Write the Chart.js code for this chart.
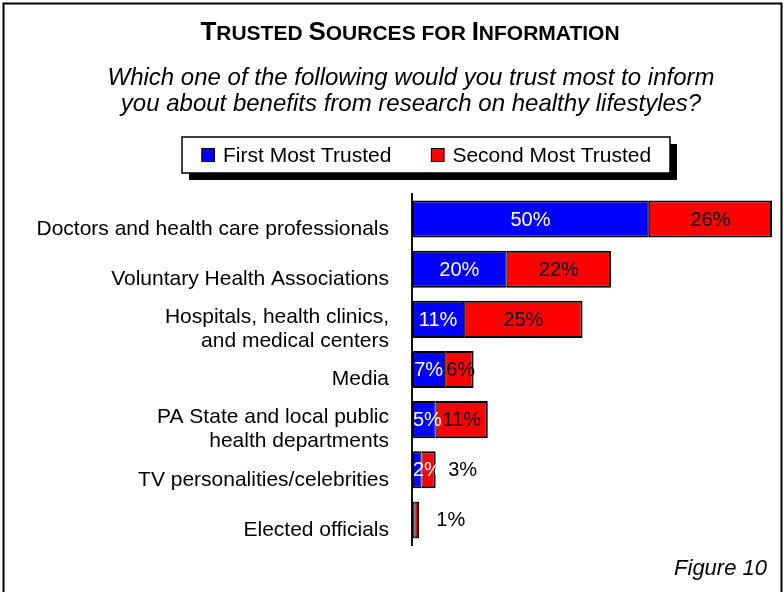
<!DOCTYPE html>
<html>
<head>
<meta charset="utf-8">
<title>Trusted Sources for Information</title>
<script src="https://cdn.jsdelivr.net/npm/chart.js@4.4.1/dist/chart.umd.min.js"></script>
<style>
  html, body { margin: 0; padding: 0; background: #fff; }
  #wrap { width: 784px; height: 592px; }
</style>
</head>
<body>
<div id="wrap"><canvas id="trustChart" width="784" height="592"></canvas></div>
<script>
const categories = [
  "Doctors and health care professionals",
  "Voluntary Health Associations",
  ["Hospitals, health clinics,", "and medical centers"],
  "Media",
  ["PA State and local public", "health departments"],
  "TV personalities/celebrities",
  "Elected officials"
];
const firstMostTrusted = [50, 20, 11, 7, 5, 2, 0.5];
const secondMostTrusted = [26, 22, 25, 6, 11, 3, 1];
const seriesNames = ["First Most Trusted", "Second Most Trusted"];
const seriesColors = ["#0000ff", "#ff0000"];

const titleText = "Trusted Sources for Information";
const questionLines = [
  "Which one of the following would you trust most to inform",
  "you about benefits from research on healthy lifestyles?"
];
const figureLabel = "Figure 10";

const FONT = '"Liberation Sans", Arial, Helvetica, sans-serif';

// value labels: white inside the blue part, black inside the red part,
// and pushed out to the right when the red part is too thin
const barValueLabels = {
  id: "barValueLabels",
  afterDatasetsDraw(chart) {
    const { ctx } = chart;
    const last = chart.data.datasets.length - 1;
    ctx.save();
    ctx.font = "20px " + FONT;
    ctx.textAlign = "center";
    ctx.textBaseline = "middle";
    chart.data.datasets.forEach((ds, di) => {
      chart.getDatasetMeta(di).data.forEach((bar, i) => {
        const v = ds.data[i];
        if (v < 1) return;
        const text = v + "%";
        const half = ctx.measureText(text).width / 2;
        const { x, y, base } = bar.getProps(["x", "y", "base"], true);
        // keep a wide label from spilling back over the left end of its part
        let tx = Math.max((x + base) / 2, base + half + 1);
        ctx.fillStyle = di === 0 ? "#fff" : "#000";
        if (di === last && x - base < 20) {
          tx = (x + base) / 2 + 34;
          ctx.fillStyle = "#000";
        }
        ctx.fillText(text, tx, y + 1);
      });
    });
    ctx.restore();
  }
};

// frame, small-caps heading, question, boxed legend and figure number
const pageDecor = {
  id: "pageDecor",
  afterDraw(chart) {
    const { ctx } = chart;
    ctx.save();

    ctx.strokeStyle = "#000";
    ctx.lineWidth = 2;
    ctx.strokeRect(3.5, 3.5, 778, 640);

    // heading in small caps
    const big = "bold 26px " + FONT;
    const small = "bold 21px " + FONT;
    const parts = [];
    titleText.split(" ").forEach((word, wi) => {
      if (wi > 0) parts.push({ t: " ", f: small });
      const first = word[0];
      if (first === first.toUpperCase()) {
        parts.push({ t: first, f: big });
      } else {
        parts.push({ t: first.toUpperCase(), f: small });
      }
      parts.push({ t: word.slice(1).toUpperCase(), f: small });
    });
    let total = 0;
    parts.forEach(p => { ctx.font = p.f; p.w = ctx.measureText(p.t).width; total += p.w; });
    let tx = 410 - total / 2;
    ctx.fillStyle = "#000";
    ctx.textBaseline = "alphabetic";
    ctx.textAlign = "left";
    parts.forEach(p => { ctx.font = p.f; ctx.fillText(p.t, tx, 40); tx += p.w; });

    // question
    ctx.font = "italic 24px " + FONT;
    ctx.textAlign = "center";
    questionLines.forEach((line, i) => ctx.fillText(line, 411, 85 + i * 26));

    // legend box with drop shadow
    const box = { left: 182, top: 137, width: 488, height: 36, shadow: 7 };
    ctx.fillStyle = "#000";
    ctx.fillRect(box.left + box.shadow, box.top + box.shadow, box.width, box.height);
    ctx.fillStyle = "#fff";
    ctx.fillRect(box.left, box.top, box.width, box.height);
    ctx.lineWidth = 1.5;
    ctx.strokeRect(box.left, box.top, box.width, box.height);

    ctx.font = "21px " + FONT;
    ctx.textAlign = "left";
    ctx.textBaseline = "middle";
    const midY = box.top + box.height / 2;
    let lx = box.left + 19.5;
    chart.data.datasets.forEach(ds => {
      ctx.fillStyle = ds.backgroundColor;
      ctx.fillRect(lx, midY - 7, 13.5, 14);
      ctx.lineWidth = 1;
      ctx.strokeStyle = "#000";
      ctx.strokeRect(lx + 0.5, midY - 6.5, 12.5, 13);
      ctx.fillStyle = "#000";
      ctx.fillText(ds.label, lx + 21.5, midY + 1);
      lx += 21.5 + ctx.measureText(ds.label).width + 39.5;
    });

    // figure number
    ctx.font = "italic 22px " + FONT;
    ctx.textAlign = "right";
    ctx.textBaseline = "alphabetic";
    ctx.fillText(figureLabel, 767, 575);

    ctx.restore();
  }
};

const ctx = document.getElementById("trustChart");

new Chart(ctx, {
  type: "bar",
  data: {
    labels: categories,
    datasets: [
      {
        label: seriesNames[0],
        data: firstMostTrusted,
        backgroundColor: seriesColors[0],
        borderColor: "#000",
        borderWidth: { top: 2, bottom: 2, left: 2, right: 1 },
        borderSkipped: false,
      },
      {
        label: seriesNames[1],
        data: secondMostTrusted,
        backgroundColor: seriesColors[1],
        borderColor: "#000",
        borderWidth: { top: 2, bottom: 2, left: 1, right: 2 },
        borderSkipped: false,
      },
    ],
  },
  options: {
    indexAxis: "y",
    responsive: false,
    animation: false,
    events: [],
    layout: {
      padding: { top: 194, bottom: 47, left: 6, right: 12 },
    },
    datasets: {
      bar: { categoryPercentage: 0.74, barPercentage: 1 },
    },
    plugins: {
      legend: { display: false },
      title: { display: false },
      tooltip: { enabled: false },
    },
    scales: {
      x: {
        stacked: true,
        display: false,
        min: 0,
        max: 76,
      },
      y: {
        stacked: true,
        grid: { display: false, drawTicks: false },
        border: { display: true, color: "#111", width: 2 },
        ticks: {
          color: "#000",
          autoSkip: false,
          padding: 23,
          labelOffset: 10,
          font: { family: FONT, size: 21, lineHeight: 1.14 },
        },
        afterFit(scale) {
          scale.width = 406;
        },
      },
    },
  },
  plugins: [barValueLabels, pageDecor],
});
</script>
</body>
</html>
